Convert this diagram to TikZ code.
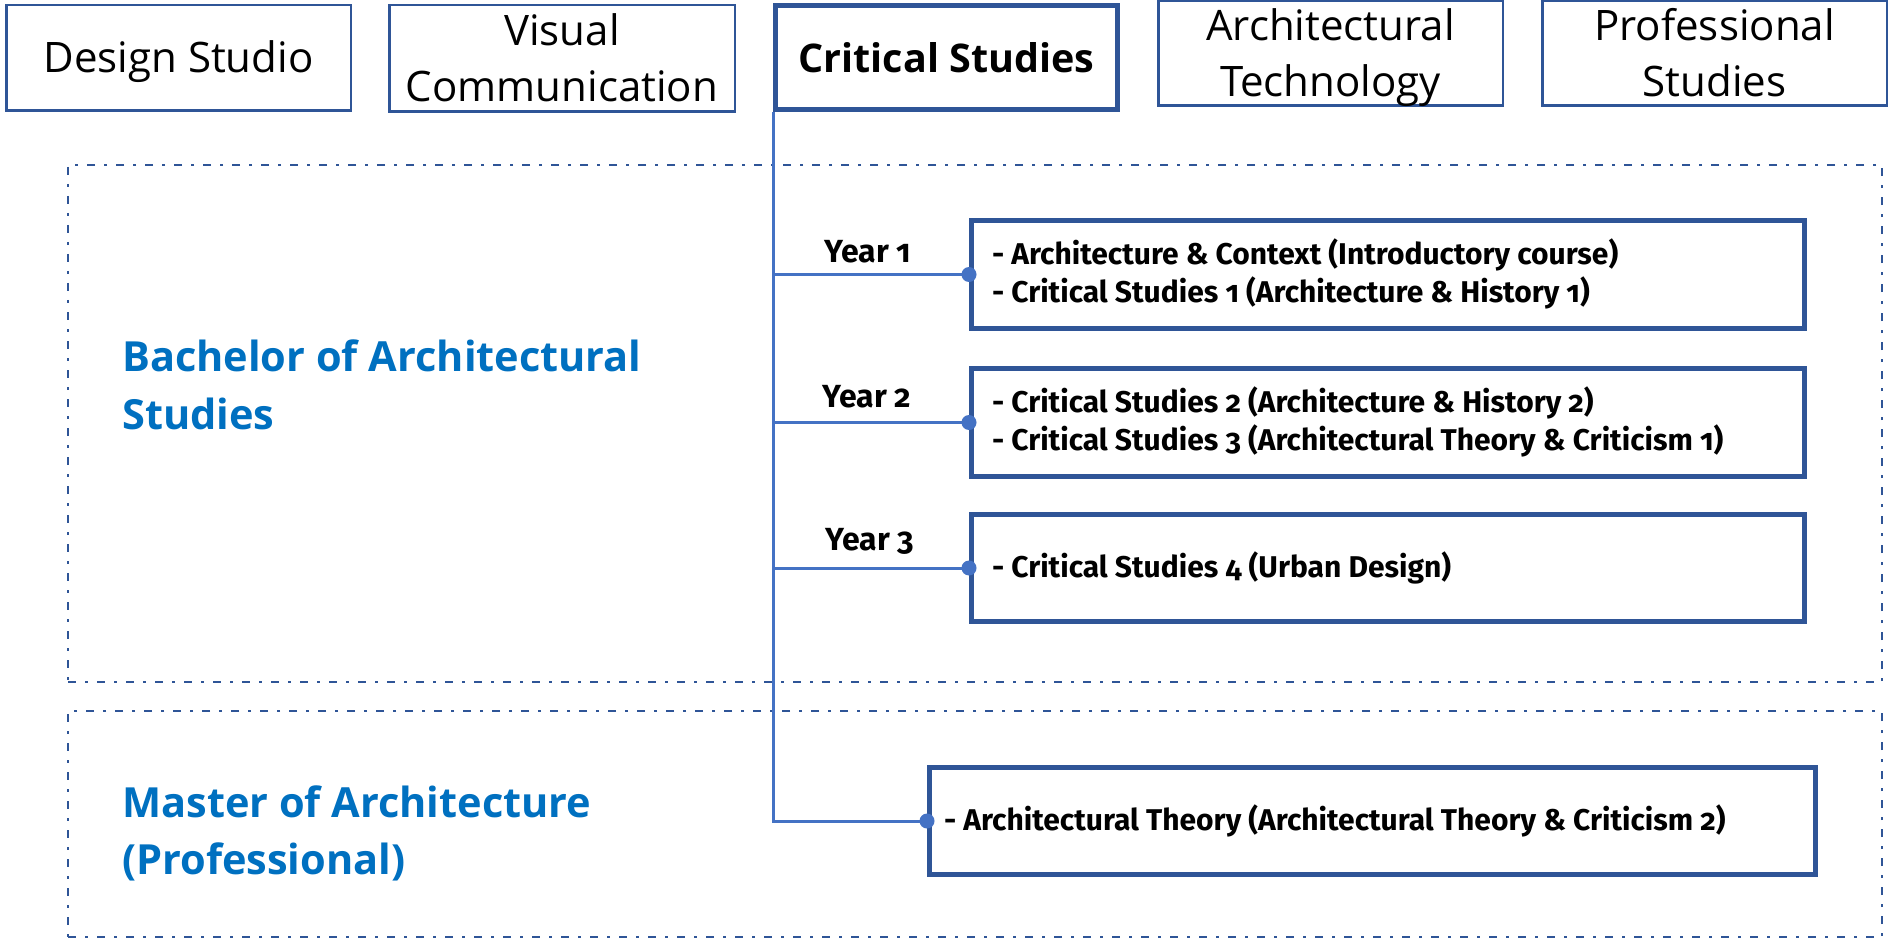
\documentclass[tikz,border=0pt]{standalone}
\usepackage{fontspec}
\setmainfont{Open Sans}
\newfontfamily\cfont[Numbers=OldStyle]{Fira Sans}
\definecolor{bord}{RGB}{47,85,151}
\definecolor{conn}{RGB}{68,114,196}
\definecolor{btext}{RGB}{0,112,192}
% fixed height/depth text blocks: #1 height above first baseline, #2 depth below it
\newcommand\cbody[3]{\raisebox{0pt}[#1][#2]{\begin{tabular}[t]{@{}c@{}}#3\end{tabular}}}
\newcommand\lbody[4]{\makebox[#1][l]{\raisebox{0pt}[#2][#3]{\begin{tabular}[t]{@{}l@{}}#4\end{tabular}}}}
\tikzset{
  topbox/.style={draw=bord, line width=2.5pt, inner sep=0pt,
    font=\fontsize{42}{56}\selectfont},
  yearbox/.style={draw=bord, line width=5pt, inner sep=0pt, minimum width=833pt,
    font=\cfont\bfseries\fontsize{30}{38.5}\selectfont},
  yearlbl/.style={inner sep=0pt, font=\cfont\bfseries\fontsize{32}{40}\selectfont},
  degree/.style={inner sep=0pt, align=left, text=btext, font=\bfseries\fontsize{41.5}{58}\selectfont},
  dashbox/.style={draw=bord, line width=2pt, dash pattern=on 8pt off 9pt on 3pt off 9pt, inner sep=0pt},
  conn/.style={draw=conn, line width=3pt},
  dot/.style={fill=conn}
}
\begin{document}
\begin{tikzpicture}[x=1pt,y=-1pt]
\useasboundingbox (0,0) rectangle (1888,939);

% group frames
\node[dashbox, minimum width=1814pt, minimum height=517pt] (bach) at (975,423.5) {};
\node[dashbox, minimum width=1814pt, minimum height=226pt] (mast) at (975,824) {};

% top boxes
\node[topbox, minimum width=344.5pt, minimum height=105.5pt] (ds) at (178.5,58) {\cbody{30pt}{0pt}{Design Studio}};
\node[topbox, minimum width=345.5pt, minimum height=106.5pt] (vc) at (562,58.5) {\cbody{30pt}{56pt}{Visual\\Communication}};
\node[topbox, line width=5pt, minimum width=342pt, minimum height=104pt, font=\bfseries\fontsize{39.5}{56}\selectfont] (cs) at (946.5,57.5) {\cbody{30pt}{0pt}{Critical Studies}};
\node[topbox, minimum width=344.5pt, minimum height=104.5pt] (at) at (1330.5,53.5) {\cbody{30pt}{56pt}{Architectural\\Technology}};
\node[topbox, minimum width=344.5pt, minimum height=104.5pt] (ps) at (1714.5,53.5) {\cbody{30pt}{56pt}{Professional\\Studies}};

% degree labels
\node[degree, anchor=base west] (bas) at (122,371) {\begin{tabular}[t]{@{}l@{}}Bachelor of Architectural\\Studies\end{tabular}};
\node[degree, anchor=base west, font=\bfseries\fontsize{41.5}{57}\selectfont] (mar) at (122,817) {\begin{tabular}[t]{@{}l@{}}Master of Architecture\\(Professional)\end{tabular}};

% course boxes
\node[yearbox, minimum height=108pt] (y1) at (1388,274.5)
  {\lbody{792pt}{18pt}{38.5pt}{- Architecture \& Context (Introductory course)\\- Critical Studies 1 (Architecture \& History 1)}};
\node[yearbox, minimum height=108pt] (y2) at (1388,422.5)
  {\lbody{792pt}{18pt}{38.5pt}{- Critical Studies 2 (Architecture \& History 2)\\- Critical Studies 3 (Architectural Theory \& Criticism 1)}};
\node[yearbox, minimum height=107pt] (y3) at (1388,568)
  {\lbody{792pt}{18pt}{0pt}{- Critical Studies 4 (Urban Design)}};
\node[yearbox, minimum width=886pt, minimum height=107pt] (m) at (1372.5,821)
  {\lbody{857pt}{18pt}{0pt}{- Architectural Theory (Architectural Theory \& Criticism 2)}};

% connectors
\coordinate (vtop) at (cs.south west);
\draw[conn] (vtop) |- (m.west);
\draw[conn] (vtop |- y1.west) -- (y1.west);
\draw[conn] (vtop |- y2.west) -- (y2.west);
\draw[conn] (vtop |- y3.west) -- (y3.west);
\fill[dot] (y1.west) circle[radius=7.5pt];
\fill[dot] (y2.west) circle[radius=7.5pt];
\fill[dot] (y3.west) circle[radius=7.5pt];
\fill[dot] (m.west) circle[radius=7.5pt];

% year labels
\node[yearlbl, anchor=base west] (l1) at (824,262) {Year 1};
\node[yearlbl, anchor=base west] (l2) at (822,407) {Year 2};
\node[yearlbl, anchor=base west] (l3) at (825,550) {Year 3};
\end{tikzpicture}
\end{document}
